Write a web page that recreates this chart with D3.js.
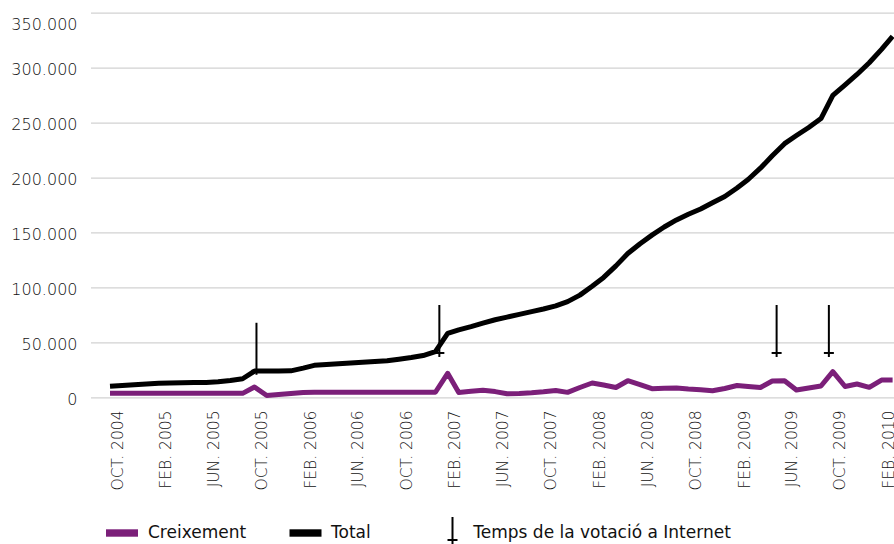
<!DOCTYPE html>
<html>
<head>
<meta charset="utf-8">
<script src="https://cdn.jsdelivr.net/npm/d3@7"></script>
<style>
	body { margin: 0; background: #fff; }
	svg { display: block; }
</style>
</head>
<body>
<script>
// monthly categories, Oct 2004 .. Mar 2010
const firstMonth = "2004-10-01";
const lastMonth = "2010-03-01";

// cumulative total
const total = [
	10000, 10700, 11500, 12100, 12800, 13100, 13300, 13400, 13500, 14100, 15300, 16900,
	23900, 23900, 23900, 24100, 26600, 29100, 29800, 30500, 31200, 31900, 32600, 33300,
	34700, 36200, 38000, 41600, 58200, 61400, 64300, 67500, 70600, 73000, 75500, 78000,
	80400, 83200, 87100, 93000, 101100, 109100, 119600, 130800, 139800, 147600, 155000, 161400,
	166600, 171400, 177100, 182700, 190500, 198200, 208500, 219800, 230800, 238200, 245500, 253700,
	274800, 284400, 293800, 304400, 316600, 328500
];

// monthly growth
const creixement = [
	3600, 3600, 3600, 3600, 3600, 3600, 3600, 3600, 3600, 3600, 3600, 3600,
	9400, 1600, 2500, 3500, 4400, 4600, 4600, 4600, 4600, 4600, 4600, 4600,
	4600, 4600, 4600, 4600, 21800, 4400, 5500, 6500, 5200, 3200, 3500, 4100,
	5000, 6200, 4500, 8900, 13000, 11200, 8900, 15100, 11600, 7800, 8200, 8500,
	7500, 6800, 6000, 8000, 10700, 9800, 8900, 14800, 15100, 6600, 8500, 10300,
	23300, 9800, 12100, 9100, 15700, 15700
];

// x tick labels
const tickDates = ["2004-10-01", "2005-02-01", "2005-06-01", "2005-10-01", "2006-02-01", "2006-06-01",
	"2006-10-01", "2007-02-01", "2007-06-01", "2007-10-01", "2008-02-01", "2008-06-01",
	"2008-10-01", "2009-02-01", "2009-06-01", "2009-10-01", "2010-02-01"];
const tickLabels = ["OCT. 2004", "FEB. 2005", "JUN. 2005", "OCT. 2005", "FEB. 2006", "JUN. 2006",
	"OCT. 2006", "FEB. 2007", "JUN. 2007", "OCT. 2007", "FEB. 2008", "JUN. 2008",
	"OCT. 2008", "FEB. 2009", "JUN. 2009", "OCT. 2009", "FEB. 2010"];

const yTicks = [0, 50000, 100000, 150000, 200000, 250000, 300000, 350000];

// internet voting markers: date and value of the arrow tip
const votingDates = ["2005-10-06", "2007-01-11", "2009-05-12", "2009-09-21"];
const votingTips = [20500, 36700, 36700, 36700];

const width = 894;
const height = 544;
const margin = {top: 12.7, right: 0, bottom: 146.7, left: 91};

const parse = d3.timeParse("%Y-%m-%d");
const months = d3.timeMonth.range(parse(firstMonth), d3.timeMonth.offset(parse(lastMonth), 1));
const data = months.map((m, i) => ({date: m, total: total[i], creixement: creixement[i]}));

const svg = d3.select("body")
	.append("svg")
	.attr("width", width)
	.attr("height", height)
	.attr("viewBox", [0, 0, width, height]);

//scales
const x = d3.scaleTime()
	.domain([parse(firstMonth), parse(lastMonth)])
	.range([110, 892.6]);

const y = d3.scaleLinear()
	.domain([0, 350000])
	.range([height - margin.bottom, margin.top]);

const locale = d3.formatLocale({decimal: ",", thousands: ".", grouping: [3], currency: ["", "€"]});
const fmt = locale.format(",d");

//y axis with gridlines
const yAxisGroup = svg.append("g")
	.attr("transform", `translate(${margin.left},0)`)
	.call(d3.axisLeft(y)
		.tickValues(yTicks)
		.tickFormat(fmt)
		.tickSize(-(width - margin.left - margin.right))
		.tickPadding(13.5))
	.call(g => g.select(".domain").remove());

yAxisGroup.selectAll(".tick line")
	.attr("stroke", "#d2d2d2")
	.attr("stroke-width", 1.3);

yAxisGroup.selectAll(".tick text")
	.attr("font-family", "'DejaVu Sans', sans-serif")
	.attr("font-weight", 300)
	.attr("font-size", 16)
	.attr("fill", "#111")
	.attr("dy", d => d === 350000 ? "1.05em" : "0.45em");

//x axis, rotated labels
const xAxisGroup = svg.append("g")
	.attr("transform", "translate(0,410.5)")
	.call(d3.axisBottom(x)
		.tickValues(tickDates.map(parse))
		.tickFormat((d, i) => tickLabels[i])
		.tickSize(0))
	.call(g => g.select(".domain").remove());

xAxisGroup.selectAll(".tick text")
	.attr("font-family", "'DejaVu Sans', sans-serif")
	.attr("font-weight", 300)
	.attr("font-size", 15.5)
	.attr("fill", "#111")
	.attr("text-anchor", "end")
	.attr("transform", "rotate(-90)")
	.attr("x", 0)
	.attr("y", 6.5)
	.attr("dy", "0.36em");

//lines
const line = key => d3.line()
	.x(d => x(d.date))
	.y(d => y(d[key]));

svg.append("path")
	.datum(data)
	.attr("fill", "none")
	.attr("stroke", "#7b1f79")
	.attr("stroke-width", 5)
	.attr("stroke-linejoin", "round")
	.attr("d", line("creixement"));

svg.append("path")
	.datum(data)
	.attr("fill", "none")
	.attr("stroke", "#000")
	.attr("stroke-width", 5)
	.attr("stroke-linejoin", "round")
	.attr("d", line("total"));

//voting arrows
function arrow(g, len) {
	g.append("line")
		.attr("y1", -len).attr("y2", 0)
		.attr("stroke", "#000").attr("stroke-width", 2);
	g.append("line")
		.attr("x1", -5).attr("x2", 5)
		.attr("y1", -4).attr("y2", -4)
		.attr("stroke", "#000").attr("stroke-width", 2);
}

svg.append("g")
	.selectAll("g")
	.data(votingDates.map((d, i) => ({date: parse(d), tip: votingTips[i]})))
	.join("g")
		.attr("transform", d => `translate(${x(d.date)},${y(d.tip)})`)
		.each(function() { arrow(d3.select(this), 52); });

//legend
const legend = svg.append("g")
	.attr("font-family", "'DejaVu Sans', sans-serif")
	.attr("font-size", 17)
	.attr("fill", "#111");

legend.append("rect")
	.attr("x", 106).attr("y", 529.3)
	.attr("width", 32).attr("height", 7.4)
	.attr("fill", "#7b1f79");
legend.append("text")
	.attr("x", 148).attr("y", 537.5)
	.text("Creixement");

legend.append("rect")
	.attr("x", 289.5).attr("y", 529.3)
	.attr("width", 32).attr("height", 7.4)
	.attr("fill", "#000");
legend.append("text")
	.attr("x", 331).attr("y", 537.5)
	.text("Total");

legend.append("g")
	.attr("transform", "translate(452.5,544)")
	.call(g => arrow(g, 27));
legend.append("text")
	.attr("x", 473.3).attr("y", 537.5)
	.text("Temps de la votació a Internet");
</script>
</body>
</html>
